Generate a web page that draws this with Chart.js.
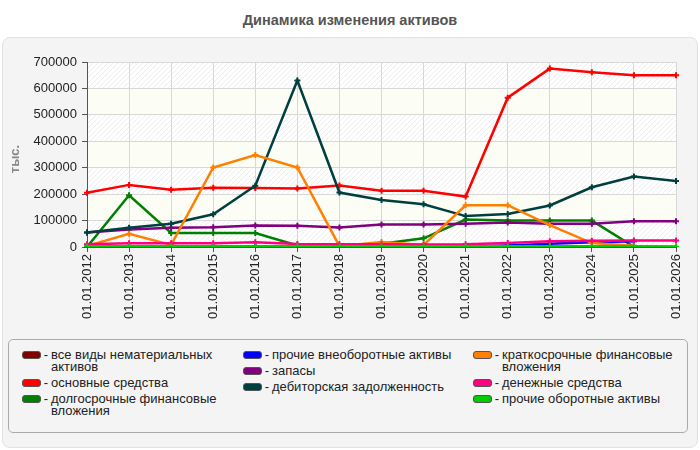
<!DOCTYPE html>
<html>
<head>
<meta charset="utf-8">
<script src="https://cdn.jsdelivr.net/npm/chart.js@4.4.1/dist/chart.umd.min.js"></script>
<style>
  html, body { margin: 0; padding: 0; background: #fff; }
  body { width: 700px; height: 450px; position: relative; overflow: hidden;
         font-family: "Liberation Sans", Arial, sans-serif; }
  #title { position: absolute; left: 0; top: 0; width: 700px; height: 37px; line-height: 40px;
           text-align: center; font-weight: bold; font-size: 14.5px; color: #555; }
  #panel { position: absolute; left: 2px; top: 37px; width: 694px; height: 409px;
           background: #f4f4f4; border: 1px solid #e2e2e2; border-radius: 8px; }
  #wrap { position: absolute; left: 3px; top: 38px; width: 694px; height: 300px; }
  #legend { position: absolute; left: 8px; top: 339px; width: 678px; height: 92px;
            border: 1px solid #aaa; border-radius: 5px; }
  .col { position: absolute; top: 9px; }
  .item { display: flex; align-items: flex-start; font-size: 13px; line-height: 12px;
          color: #222; margin-bottom: 4px; }
  .sw { width: 17px; height: 6px; border: 1px solid #555; border-radius: 3px; margin-top: 2px; flex: none; }
  .dash { width: 10px; text-align: center; flex: none; }
</style>
</head>
<body>
<div id="title">Динамика изменения активов</div>
<div id="panel"></div>
<div id="wrap"><canvas id="chart" width="694" height="300"></canvas></div>
<div id="legend"></div>
<script>
const categories = ["01.01.2012", "01.01.2013", "01.01.2014", "01.01.2015", "01.01.2016",
  "01.01.2017", "01.01.2018", "01.01.2019", "01.01.2020", "01.01.2021", "01.01.2022",
  "01.01.2023", "01.01.2024", "01.01.2025", "01.01.2026"];

const intangible = [0, 0, 0, 0, 0, 0, 0, 0, 0, 0, 0, 0, 0, 0, 0];
const fixedAssets = [205000, 235000, 217000, 224000, 223000, 221000, 233000, 213000, 213000, 191000, 565000, 675000, 661000, 650000, 650000];
const longTermInv = [0, 196000, 53000, 53000, 53000, 6000, 3000, 12000, 33000, 104000, 100000, 100000, 100000, 1000, 0];
const otherNonCurrent = [1000, 1000, 1000, 1000, 1000, 1000, 1000, 1000, 1000, 2000, 6000, 12000, 18000, 22000, null];
const inventories = [55000, 66000, 73000, 75000, 81000, 80000, 74000, 85000, 85000, 88000, 93000, 88000, 88000, 97000, 97000];
const receivables = [55000, 73000, 88000, 124000, 232000, 630000, 206000, 178000, 162000, 117000, 125000, 157000, 226000, 267000, 250000];
const shortTermInv = [4000, 50000, 8000, 301000, 348000, 301000, 3000, 19000, 8000, 158000, 158000, 83000, 15000, 5000, null];
const cash = [10000, 14000, 14000, 14000, 18000, 11000, 10000, 10000, 9000, 10000, 15000, 22000, 24000, 25000, 25000];
const otherCurrent = [3000, 3000, 3000, 3000, 3000, 3000, 3000, 3000, 3000, 3000, 3000, 3000, 3000, 3000, 1000];

const seriesNames = ["все виды нематериальных активов", "основные средства", "долгосрочные финансовые вложения",
  "прочие внеоборотные активы", "запасы", "дебиторская задолженность",
  "краткосрочные финансовые вложения", "денежные средства", "прочие оборотные активы"];
const seriesData = [intangible, fixedAssets, longTermInv, otherNonCurrent, inventories, receivables, shortTermInv, cash, otherCurrent];
const seriesColors = ["#800000", "#ff0000", "#008000", "#0000ff", "#800080", "#003f3f", "#ff8000", "#ff0080", "#00cc00"];

// legend, three columns
const legend = document.getElementById("legend");
const colLeft = [13, 234, 464];
const colText = [170, 200, 180];
[[0, 1, 2], [3, 4, 5], [6, 7, 8]].forEach((idx, c) => {
  const col = document.createElement("div");
  col.className = "col";
  col.style.left = colLeft[c] + "px";
  idx.forEach(i => {
    const it = document.createElement("div");
    it.className = "item";
    it.innerHTML = `<span class="sw" style="background:${seriesColors[i]}"></span><span class="dash">-</span>` +
      `<span style="width:${colText[c]}px">${seriesNames[i]}</span>`;
    col.appendChild(it);
  });
  legend.appendChild(col);
});

// hatched pattern for alternating bands
function hatch() {
  const p = document.createElement("canvas");
  p.width = 5; p.height = 5;
  const g = p.getContext("2d");
  g.fillStyle = "#ffffff";
  g.fillRect(0, 0, 5, 5);
  g.strokeStyle = "#eeeeee";
  g.lineWidth = 1;
  g.beginPath();
  g.moveTo(0, 5); g.lineTo(5, 0);
  g.moveTo(-1, 1); g.lineTo(1, -1);
  g.moveTo(4, 6); g.lineTo(6, 4);
  g.stroke();
  return p;
}

const bandsPlugin = {
  id: "bands",
  beforeDraw(chart) {
    const { ctx, chartArea: a, scales } = chart;
    const pat = ctx.createPattern(hatch(), "repeat");
    const ticks = scales.y.ticks;
    ctx.save();
    for (let i = 0; i < ticks.length - 1; i++) {
      const y0 = scales.y.getPixelForValue(ticks[i].value);
      const y1 = scales.y.getPixelForValue(ticks[i + 1].value);
      ctx.fillStyle = i % 2 === 0 ? pat : "#fcfdf4";
      ctx.fillRect(a.left, y1, a.right - a.left, y0 - y1);
    }
    ctx.strokeStyle = "#dcdcdc";
    ctx.lineWidth = 1;
    ctx.beginPath();
    ctx.moveTo(a.left, a.top + 0.5);
    ctx.lineTo(a.right + 0.5, a.top + 0.5);
    ctx.lineTo(a.right + 0.5, a.bottom);
    ctx.stroke();

    ctx.translate(12, 121);
    ctx.rotate(-Math.PI / 2);
    ctx.fillStyle = "#888";
    ctx.font = "bold 13px 'Liberation Sans', Arial, sans-serif";
    ctx.textAlign = "center";
    ctx.textBaseline = "middle";
    ctx.fillText("тыс.", 0, 0);
    ctx.restore();
  }
};

Chart.defaults.font.family = "'Liberation Sans', Arial, sans-serif";
Chart.defaults.font.size = 13;
Chart.defaults.color = "#222";

const n = seriesData.length;
new Chart(document.getElementById("chart"), {
  type: "line",
  data: {
    labels: categories,
    datasets: seriesData.map((d, i) => ({
      label: seriesNames[i],
      data: d,
      borderColor: seriesColors[i],
      backgroundColor: seriesColors[i],
      borderWidth: 2.5,
      pointStyle: "cross",
      pointRadius: 3,
      pointBorderWidth: 2,
      tension: 0,
      order: n - i
    }))
  },
  options: {
    responsive: false,
    animation: false,
    layout: { padding: { top: 24, right: 21, left: 0, bottom: 0 } },
    plugins: { legend: { display: false }, tooltip: { enabled: false } },
    scales: {
      x: {
        offset: false,
        afterFit(s) { s.height = 91; },
        grid: { color: "#d8d8d8", borderDash: [5, 4], tickColor: "#555", tickBorderDash: [], tickLength: 5 },
        border: { color: "#555" },
        ticks: { minRotation: 90, maxRotation: 90, padding: 2, color: "#222", autoSkip: false }
      },
      y: {
        min: 0,
        max: 700000,
        afterFit(s) { s.width = 84; },
        grid: { color: "#d8d8d8", borderDash: [5, 4], tickColor: "#555", tickBorderDash: [], tickLength: 5 },
        border: { color: "#555" },
        ticks: { stepSize: 100000, padding: 5, color: "#222", callback: v => String(v) }
      }
    }
  },
  plugins: [bandsPlugin]
});
</script>
</body>
</html>
